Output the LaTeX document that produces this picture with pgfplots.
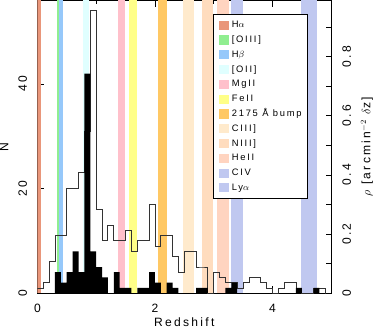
\documentclass[border=0pt]{standalone}
\usepackage{fontspec}
\setmainfont{Liberation Sans}[LetterSpace=19]
\usepackage{pgfplots}
\pgfplotsset{compat=1.18}
\usepackage{pgfplotstable}

\definecolor{cHa}{RGB}{233,150,122}
\definecolor{cOIII}{RGB}{144,238,144}
\definecolor{cHb}{RGB}{150,200,250}
\definecolor{cOII}{RGB}{224,255,255}
\definecolor{cMgII}{RGB}{255,192,203}
\definecolor{cFeII}{RGB}{255,255,136}
\definecolor{cbump}{RGB}{255,200,100}
\definecolor{cCIII}{RGB}{255,234,204}
\definecolor{cNIII}{RGB}{255,220,190}
\definecolor{cHeII}{RGB}{255,212,192}
\definecolor{cCIV}{RGB}{192,200,240}

% all sources (outline) and the filled sub-sample, bins of dz = 0.1
\pgfplotstableread{
z n
0.0 1
0.1 2
0.2 6
0.3 11
0.4 11
0.5 20
0.6 20
0.7 23
0.8 31
0.9 54
1.0 16
1.1 10
1.2 13
1.3 10
1.4 10
1.5 12
1.6 8
1.7 10
1.8 10
1.9 17
2.0 9
2.1 11
2.2 11
2.3 7
2.4 4
2.5 8
2.6 8
2.7 5
2.8 5
2.9 0
3.0 4
3.1 3
3.2 2
3.3 2
3.4 1
3.5 2
3.6 3
3.7 3
3.8 2
3.9 1
4.0 0
4.1 1
4.2 2
4.3 2
4.4 1
4.5 0
4.6 0
4.7 1
4.8 1
4.9 0
5.0 0
}\allz

\pgfplotstableread{
z n
0.0 0
0.1 0
0.2 0
0.3 4
0.4 2
0.5 4
0.6 8
0.7 4
0.8 42
0.9 8
1.0 5
1.1 3
1.2 0
1.3 4
1.4 1
1.5 1
1.6 0
1.7 1
1.8 1
1.9 4
2.0 2
2.1 0
2.2 2
2.3 1
2.4 0
2.5 0
2.6 0
2.7 1
2.8 1
2.9 0
3.0 0
3.1 0
3.2 1
3.3 2
3.4 0
3.5 0
3.6 0
3.7 0
3.8 0
3.9 0
4.0 0
4.1 0
4.2 0
4.3 0
4.4 1
4.5 0
4.6 0
4.7 1
4.8 0
4.9 0
5.0 0
}\subz

\begin{document}
\begin{tikzpicture}
\begin{axis}[
  width=292pt, height=291pt, scale only axis,
  xmin=0, xmax=5, ymin=0, ymax=56,
  xtick={0,2,4}, minor xtick={1,3},
  ytick={0,20,40}, minor ytick={10,30,50},
  ytick pos=left,
  tick align=inside,
  major tick length=7pt, minor tick length=4pt,
  tick style={black, line width=0.6pt},
  axis line style={line width=0.6pt},
  /pgf/number format/assume math mode=true,
  tick label style={font=\fontsize{12}{12}\selectfont},
  yticklabel style={rotate=90, anchor=south, inner sep=0pt},
  yticklabel shift=10pt,
  xticklabel style={anchor=north, inner sep=0pt},
  xticklabel shift=11pt,
  xlabel={Redshift}, ylabel={N},
  label style={font=\fontsize{12}{12}\selectfont, inner sep=0pt},
  xlabel style={at={(axis description cs:0.5,-0.115)}, anchor=base, text depth=2pt},
  ylabel style={at={(axis description cs:-0.113,0.5)}, anchor=center},
  legend style={at={(0.599,0.952)}, anchor=north west, draw=black,
    line width=0.6pt, fill=white, inner sep=5pt, row sep=3.7pt,
    column sep=2pt, font=\fontsize{9.3}{10}\selectfont,
    nodes={inner sep=1pt, text height=7pt, text depth=2pt},
    cells={anchor=west}},
  legend image code/.code={\fill[#1] (0pt,-4.5pt) rectangle (10pt,4.5pt);},
]
\addplot[fill=cHa, draw=none] coordinates {(0,60) (0.07,60)} \closedcycle;
\addlegendentry{H$\alpha$}
\addplot[fill=cOIII, draw=none] coordinates {(0.33,60) (0.375,60)} \closedcycle;
\addlegendentry{[OIII]}
\addplot[fill=cHb, draw=none] coordinates {(0.375,60) (0.44,60)} \closedcycle;
\addlegendentry{H$\beta$}
\addplot[fill=cOII, draw=none] coordinates {(0.78,60) (0.88,60)} \closedcycle;
\addlegendentry{[OII]}
\addplot[fill=cMgII, draw=none] coordinates {(1.37,60) (1.49,60)} \closedcycle;
\addlegendentry{MgII}
\addplot[fill=cFeII, draw=none] coordinates {(1.56,60) (1.69,60)} \closedcycle;
\addlegendentry{FeII}
\addplot[fill=cbump, draw=none] coordinates {(2.06,60) (2.20,60)} \closedcycle;
\addlegendentry{2175 Å bump}
\addplot[fill=cCIII, draw=none] coordinates {(2.48,60) (2.66,60)} \closedcycle;
\addlegendentry{CIII]}
\addplot[fill=cNIII, draw=none] coordinates {(2.80,60) (2.99,60)} \closedcycle;
\addlegendentry{NIII]}
\addplot[fill=cHeII, draw=none] coordinates {(3.06,60) (3.26,60)} \closedcycle;
\addlegendentry{HeII}
\addplot[fill=cCIV, draw=none] coordinates {(3.30,60) (3.50,60)} \closedcycle;
\addlegendentry{CIV}
\addplot[fill=cCIV, draw=none] coordinates {(4.49,60) (4.75,60)} \closedcycle;
\addlegendentry{Ly$\alpha$}

\addplot[const plot, draw=black!80, line width=0.8pt, forget plot] table[x=z, y=n] {\allz};
\addplot[ybar interval, fill=black, draw=none, forget plot] table[x=z, y=n] {\subz};
\end{axis}

\begin{axis}[
  width=292pt, height=291pt, scale only axis,
  xmin=0, xmax=5, ymin=0, ymax=0.99,
  axis x line=none, axis y line*=right,
  ytick={0,0.2,0.4,0.6,0.8}, minor ytick={0.1,0.3,0.5,0.7,0.9},
  tick align=inside,
  major tick length=5pt, minor tick length=5pt,
  tick style={black, line width=0.6pt},
  axis line style={line width=0.6pt},
  /pgf/number format/assume math mode=true,
  /pgf/number format/fixed, /pgf/number format/precision=1,
  tick label style={font=\fontsize{12}{12}\selectfont},
  yticklabel style={rotate=90, anchor=north, inner sep=0pt},
  yticklabel shift=11pt,
  ylabel={$\rho$ [arcmin$^{-2}$ $\delta$z]},
  ylabel style={at={(axis description cs:1.1216,0.5)}, anchor=center,
    font=\fontsize{12}{12}\selectfont, inner sep=0pt},
]
\end{axis}
\end{tikzpicture}
\end{document}
